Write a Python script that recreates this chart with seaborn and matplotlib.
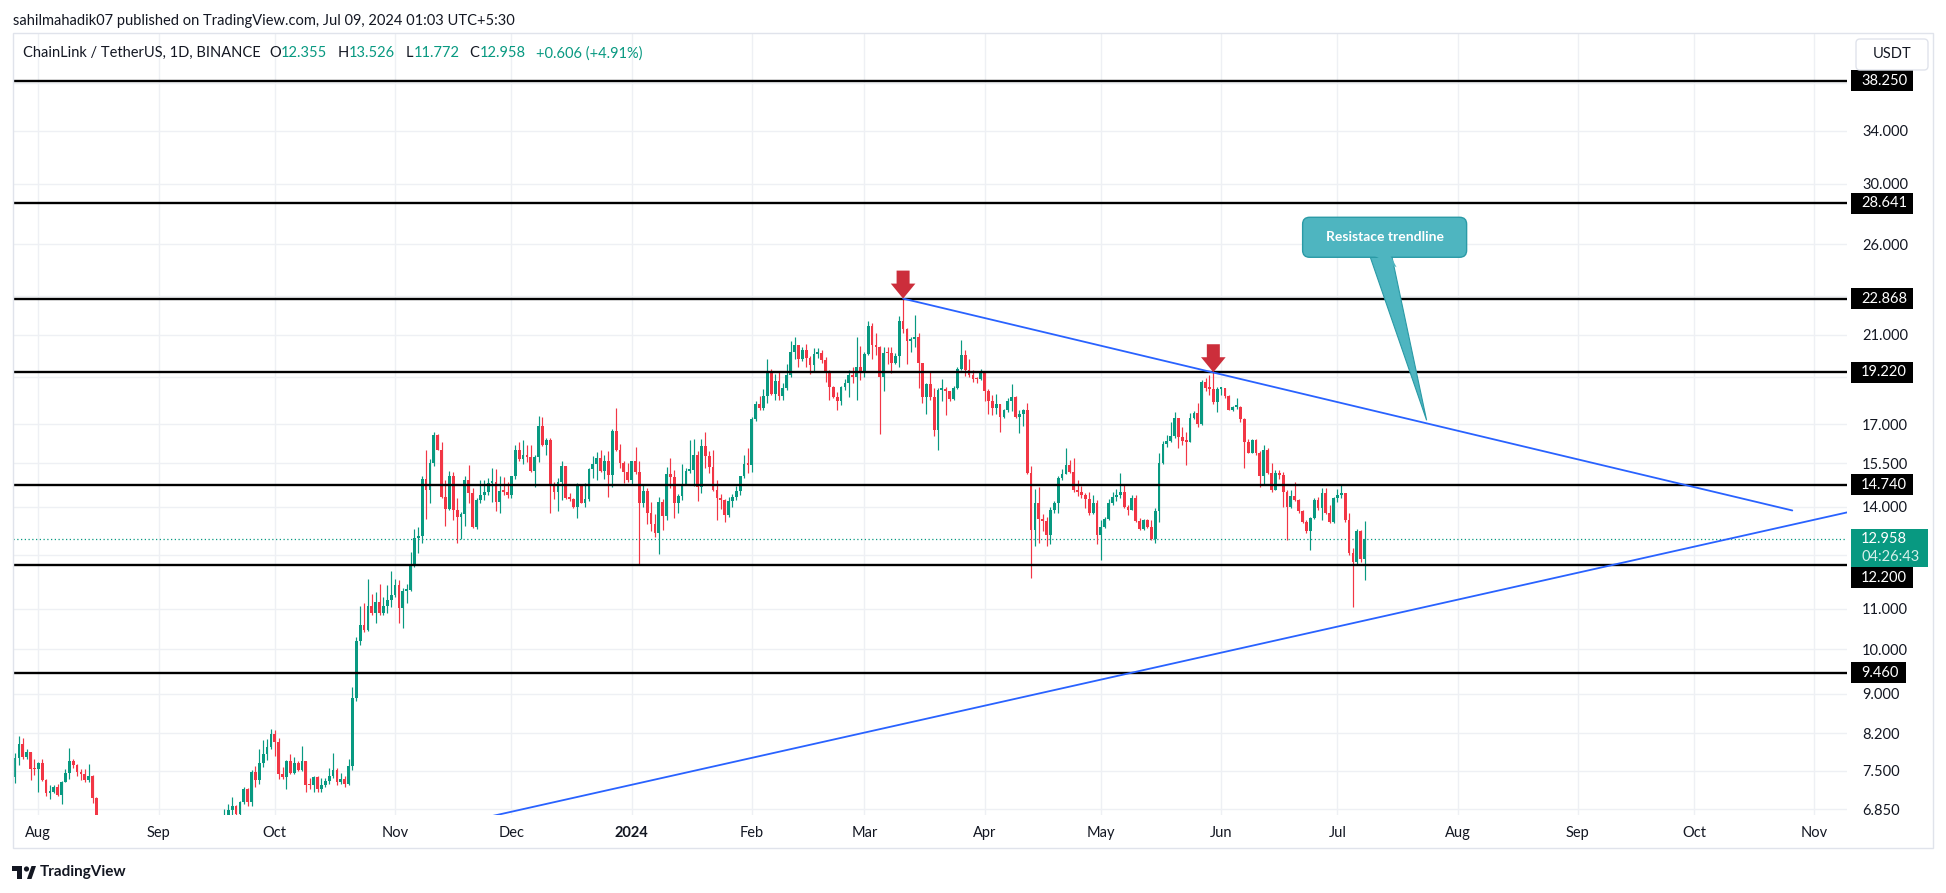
import numpy as np
import pandas as pd
import matplotlib
matplotlib.use("Agg")
import matplotlib.pyplot as plt
import matplotlib.dates as mdates
from matplotlib.patches import Polygon, Rectangle, FancyBboxPatch, Circle
from matplotlib.ticker import FixedLocator, FixedFormatter, NullLocator
from matplotlib.transforms import IdentityTransform
import seaborn as sns

# ---------------------------------------------------------------- data
first_date = "2023-07-26"
first_open = 7.40

close_2023_07 = [7.74, 8.00, 7.76, 7.85, 7.54, 7.53]
high_2023_07 = [7.82, 8.14, 8.10, 7.90, 7.85, 7.72]
low_2023_07 = [7.29, 7.61, 7.72, 7.72, 7.34, 7.43]

close_2023_08 = [7.64, 7.34, 7.12, 7.14, 7.22, 7.09, 7.31, 7.47, 7.68, 7.61,
                 7.49, 7.44, 7.34, 7.42, 7.04, 6.50, 6.02, 6.05, 6.12, 6.20,
                 6.06, 5.96, 6.18, 6.06, 6.04, 6.02, 6.07, 6.10, 6.44, 6.28, 6.02]
high_2023_08 = [7.66, 7.72, 7.36, 7.25, 7.26, 7.27, 7.33, 7.54, 7.92, 7.72,
                7.63, 7.53, 7.53, 7.63, 7.43, 7.06, 6.55, 6.18, 6.22, 6.28,
                6.22, 6.10, 6.24, 6.22, 6.10, 6.08, 6.12, 6.18, 6.62, 6.48, 6.36]
low_2023_08 = [7.14, 7.32, 7.07, 7.02, 7.12, 7.07, 6.94, 7.30, 7.36, 7.55,
               7.42, 7.34, 7.31, 7.31, 6.95, 6.45, 5.62, 5.82, 5.98, 6.06,
               5.96, 5.72, 5.90, 6.00, 5.94, 5.98, 5.98, 6.00, 6.05, 6.22, 5.95]

close_2023_09 = [5.96, 6.02, 6.06, 6.02, 6.08, 6.06, 6.12, 6.02, 6.04, 5.92,
                 5.84, 6.02, 6.12, 6.28, 6.30, 6.34, 6.28, 6.70, 6.84, 6.91,
                 6.77, 6.97, 7.18, 6.97, 7.49, 7.34, 7.64, 7.80, 7.94, 8.19]
high_2023_09 = [6.08, 6.06, 6.12, 6.10, 6.14, 6.18, 6.20, 6.16, 6.08, 6.06,
                5.98, 6.12, 6.18, 6.40, 6.36, 6.40, 6.38, 6.85, 6.93, 7.05,
                6.92, 6.99, 7.22, 7.20, 7.51, 7.58, 7.90, 8.07, 8.08, 8.28]
low_2023_09 = [5.84, 5.94, 5.98, 5.96, 5.97, 6.00, 6.02, 5.98, 6.00, 5.85,
               5.72, 5.82, 5.98, 6.10, 6.18, 6.26, 6.20, 6.26, 6.62, 6.75,
               6.65, 6.72, 6.93, 6.90, 6.91, 7.23, 7.27, 7.57, 7.70, 7.90]

close_2023_10 = [8.04, 7.45, 7.40, 7.68, 7.47, 7.64, 7.52, 7.67, 7.26, 7.25,
                 7.40, 7.18, 7.26, 7.33, 7.42, 7.52, 7.31, 7.36, 7.28, 7.58,
                 8.90, 10.20, 10.59, 10.46, 11.07, 10.90, 11.18, 10.90, 11.07, 11.23, 11.36]
high_2023_10 = [8.26, 8.10, 7.57, 7.69, 7.80, 7.76, 7.68, 7.95, 7.68, 7.37,
                7.41, 7.42, 7.38, 7.37, 7.56, 7.83, 7.55, 7.46, 7.42, 7.72,
                9.15, 10.30, 11.07, 11.14, 11.79, 11.39, 11.45, 11.66, 11.30, 11.63, 12.03]
low_2023_10 = [7.77, 7.36, 7.36, 7.19, 7.45, 7.44, 7.50, 7.50, 7.14, 7.19,
               7.13, 7.13, 7.13, 7.22, 7.27, 7.37, 7.26, 7.28, 7.22, 7.26,
               7.52, 8.84, 10.10, 10.40, 10.44, 10.85, 10.64, 10.85, 10.85, 10.90, 11.05]

close_2023_11 = [11.63, 11.02, 11.47, 11.50, 12.23, 13.00, 13.05, 14.94, 14.56, 15.50,
                 16.56, 16.01, 14.33, 13.93, 15.05, 13.87, 13.67, 13.75, 14.91, 14.44,
                 13.34, 14.22, 14.39, 14.50, 14.80, 14.85, 14.16, 14.52, 14.50, 14.39]
high_2023_11 = [11.80, 11.77, 11.55, 11.65, 12.58, 13.29, 13.35, 15.05, 16.01, 15.65,
                16.71, 16.63, 16.30, 14.91, 15.24, 15.20, 14.29, 13.82, 15.05, 15.43,
                14.64, 14.30, 14.91, 14.90, 14.97, 15.33, 15.30, 15.03, 15.00, 14.82]
low_2023_11 = [11.30, 10.64, 10.52, 11.15, 11.48, 12.14, 12.54, 12.83, 13.60, 14.13,
               15.40, 15.98, 14.30, 13.38, 13.90, 13.57, 12.86, 12.97, 13.38, 14.13,
               13.30, 13.29, 14.13, 14.22, 14.40, 14.16, 13.86, 13.78, 14.39, 14.30]

close_2023_12 = [15.03, 16.01, 15.67, 15.82, 15.72, 15.22, 15.72, 16.94, 16.17, 16.39,
                 14.74, 14.50, 14.82, 15.39, 14.27, 14.25, 14.00, 14.74, 14.13, 14.24,
                 15.30, 15.48, 15.69, 15.22, 15.60, 15.08, 16.75, 15.98, 15.50, 15.18, 14.91]
high_2023_12 = [15.05, 16.20, 16.30, 16.39, 16.19, 16.17, 15.80, 17.32, 17.28, 16.47,
                16.45, 14.82, 14.97, 15.59, 15.42, 14.44, 14.30, 14.80, 14.74, 14.80,
                15.33, 15.76, 15.93, 15.98, 15.82, 15.96, 16.80, 17.66, 16.24, 15.59, 15.50]
low_2023_12 = [14.30, 14.95, 15.60, 15.49, 15.55, 15.20, 14.67, 15.55, 16.15, 15.82,
               13.80, 14.24, 13.86, 14.22, 14.25, 14.20, 13.95, 13.64, 14.10, 14.00,
               14.20, 14.97, 14.91, 15.20, 14.95, 14.33, 14.67, 15.95, 15.33, 14.80, 14.82]

close_2024_01 = [15.57, 15.18, 14.13, 14.53, 13.78, 13.44, 13.16, 14.15, 13.69, 15.12,
                 15.00, 14.13, 14.36, 14.77, 15.24, 15.27, 15.80, 14.65, 16.14, 15.76,
                 15.38, 14.56, 14.30, 14.22, 13.73, 14.20, 14.33, 14.51, 15.03, 15.48, 15.45]
high_2024_01 = [15.59, 16.11, 15.59, 14.76, 14.64, 14.14, 13.76, 14.33, 14.24, 15.37,
                15.69, 15.27, 14.41, 15.46, 15.33, 16.39, 16.41, 15.95, 16.40, 16.71,
                15.96, 16.01, 14.91, 14.42, 14.24, 14.33, 14.42, 14.70, 15.05, 15.82, 16.07]
low_2024_01 = [14.77, 15.12, 12.20, 14.00, 13.43, 13.22, 13.02, 12.52, 13.25, 13.57,
               14.62, 13.62, 13.80, 14.22, 14.74, 15.15, 14.70, 14.20, 14.47, 15.33,
               15.15, 14.53, 13.57, 13.91, 13.51, 13.65, 14.00, 14.22, 14.39, 14.97, 15.15]

close_2024_02 = [17.21, 17.83, 17.66, 18.18, 19.21, 18.27, 18.83, 18.18, 18.52, 19.10,
                 20.18, 20.50, 19.82, 20.26, 19.90, 19.53, 20.06, 20.10, 19.79, 19.26,
                 18.58, 18.11, 17.97, 18.58, 18.75, 19.10, 19.02, 19.44, 19.26]
high_2024_02 = [17.31, 17.97, 18.18, 18.46, 19.82, 19.37, 19.14, 19.26, 18.75, 19.60,
                20.71, 20.91, 20.50, 20.38, 20.55, 19.95, 20.34, 20.34, 20.26, 19.93,
                19.30, 18.60, 18.33, 18.62, 18.90, 19.33, 19.44, 20.91, 20.45]
low_2024_02 = [15.18, 17.14, 17.59, 17.59, 17.89, 18.20, 18.00, 18.00, 18.00, 18.45,
               19.00, 19.82, 19.44, 19.75, 19.44, 19.14, 19.26, 19.86, 19.64, 18.80,
               18.01, 18.08, 17.59, 17.80, 18.45, 18.13, 18.73, 18.00, 18.85]

close_2024_03 = [20.06, 21.44, 20.50, 20.40, 19.00, 20.13, 20.10, 19.64, 19.97, 21.70,
                 21.27, 20.71, 20.78, 20.91, 19.64, 18.11, 18.70, 18.11, 16.78, 18.44,
                 18.48, 18.37, 18.04, 18.50, 19.37, 20.02, 19.30, 19.10, 18.93, 18.90, 19.20]
high_2024_03 = [20.15, 21.70, 21.60, 21.10, 20.45, 20.38, 20.40, 20.40, 20.13, 21.95,
                22.87, 21.36, 20.91, 22.00, 21.10, 19.64, 18.75, 19.26, 18.50, 18.50,
                18.93, 18.58, 18.40, 18.60, 19.44, 20.75, 20.26, 19.82, 19.33, 19.02, 19.36]
low_2024_03 = [19.00, 20.00, 19.82, 20.00, 16.60, 18.40, 19.60, 19.20, 19.58, 19.45,
               21.10, 19.58, 20.18, 20.40, 18.50, 17.89, 17.41, 18.00, 16.55, 15.98,
               17.95, 17.36, 17.96, 18.01, 18.46, 19.30, 19.06, 19.00, 18.80, 18.75, 18.85]

close_2024_04 = [18.37, 17.97, 17.68, 17.83, 17.31, 17.59, 17.94, 18.15, 17.31, 17.42,
                 17.59, 15.15, 13.25, 14.13, 13.60, 13.52, 13.10, 13.89, 14.13, 14.98,
                 15.12, 15.45, 15.20, 14.54, 14.50, 14.38, 14.25, 13.80, 14.10, 13.10]
high_2024_04 = [19.25, 18.48, 18.22, 18.27, 17.83, 17.62, 18.10, 18.70, 18.18, 17.59,
                17.62, 17.89, 15.40, 14.60, 14.65, 13.75, 13.65, 14.00, 14.20, 15.03,
                15.30, 16.07, 15.63, 15.69, 14.91, 14.68, 14.45, 14.50, 14.39, 14.22]
low_2024_04 = [17.96, 17.42, 17.38, 17.42, 16.70, 17.26, 17.50, 17.55, 17.26, 16.67,
               16.94, 15.10, 11.82, 12.76, 12.85, 13.20, 12.76, 12.80, 13.80, 13.78,
               14.90, 15.10, 15.15, 14.50, 14.36, 14.28, 13.94, 13.73, 13.76, 12.80]

close_2024_05 = [13.34, 13.60, 14.13, 14.32, 14.38, 14.50, 13.98, 13.89, 14.27, 13.54,
                 13.28, 13.57, 13.34, 12.97, 13.86, 15.52, 16.24, 16.36, 16.54, 17.26,
                 16.50, 16.36, 16.32, 17.26, 17.47, 17.00, 18.80, 18.53, 18.48, 17.93, 18.48]
high_2024_05 = [13.57, 13.67, 14.24, 14.50, 14.58, 15.15, 14.74, 14.05, 14.39, 14.39,
                13.62, 13.60, 13.60, 13.57, 13.94, 15.88, 16.33, 16.59, 17.11, 17.48,
                17.27, 16.89, 16.71, 17.45, 17.55, 17.89, 18.88, 18.95, 19.10, 19.24, 18.58]
low_2024_05 = [12.34, 13.30, 13.55, 14.05, 14.20, 14.30, 13.95, 13.73, 13.94, 13.51,
               13.25, 13.25, 13.30, 12.94, 12.84, 13.51, 15.49, 16.10, 16.30, 16.45,
               16.07, 16.20, 15.45, 16.30, 17.20, 16.90, 16.95, 18.40, 18.23, 17.83, 17.48]

close_2024_06 = [18.52, 18.18, 17.59, 17.70, 17.72, 17.21, 16.32, 15.90, 16.39, 15.90,
                 15.03, 16.01, 15.15, 14.56, 15.17, 15.08, 14.50, 13.99, 14.35, 14.22,
                 13.84, 13.50, 13.20, 13.62, 14.22, 13.94, 14.46, 13.80, 13.50, 14.30]
high_2024_06 = [18.58, 18.50, 18.23, 17.73, 18.07, 17.76, 17.25, 16.41, 16.40, 16.40,
                15.95, 16.20, 16.07, 15.52, 15.27, 15.25, 15.20, 14.56, 14.56, 14.85,
                14.24, 13.89, 13.57, 13.67, 14.27, 14.33, 14.62, 14.62, 14.05, 14.33]
low_2024_06 = [18.23, 18.10, 17.57, 17.55, 17.64, 17.11, 15.33, 15.88, 15.88, 15.82,
               14.67, 14.77, 15.10, 14.50, 14.67, 14.95, 14.00, 12.94, 13.95, 14.20,
               13.80, 13.46, 13.14, 12.64, 13.60, 13.90, 13.57, 13.76, 13.48, 13.45]

close_2024_07 = [14.38, 14.45, 13.57, 12.55, 12.28, 13.22, 12.355, 12.958]
high_2024_07 = [14.58, 14.77, 14.47, 13.78, 12.69, 13.28, 13.24, 13.526]
low_2024_07 = [14.15, 14.30, 13.51, 12.50, 11.05, 12.23, 12.28, 11.772]

# horizontal support / resistance levels
level_values = [38.25, 28.641, 22.868, 19.22, 14.74, 12.2, 9.46]
level_labels = ["38.250", "28.641", "22.868", "19.220", "14.740", "12.200", "9.460"]

# price scale
tick_values = [34, 30, 26, 21, 17, 15.5, 14, 11, 10, 9, 8.2, 7.5, 6.85]
tick_labels = ["34.000", "30.000", "26.000", "21.000", "17.000", "15.500", "14.000",
               "11.000", "10.000", "9.000", "8.200", "7.500", "6.850"]
hidden_grid_values = [38, 23, 19, 12.5]

# time scale
month_starts = ["2023-08-01", "2023-09-01", "2023-10-01", "2023-11-01", "2023-12-01",
                "2024-01-01", "2024-02-01", "2024-03-01", "2024-04-01", "2024-05-01",
                "2024-06-01", "2024-07-01", "2024-08-01", "2024-09-01", "2024-10-01",
                "2024-11-01"]
month_labels = ["Aug", "Sep", "Oct", "Nov", "Dec", "2024", "Feb", "Mar", "Apr", "May",
                "Jun", "Jul", "Aug", "Sep", "Oct", "Nov"]

# trendlines
resistance_dates = ["2024-03-11 00:00", "2024-10-26 07:00"]
resistance_prices = [22.868, 13.87]
support_dates = ["2023-10-20 00:00", "2024-11-20 00:00"]
support_prices = [6.25, 14.11]

# annotations
arrow_dates = ["2024-03-11", "2024-05-30"]
arrow_prices = [22.868, 19.22]
callout_text = "Resistace trendline"
callout_date = "2024-07-24"
callout_price = 17.16

last_price_label = "12.958"
countdown_label = "04:26:43"
header_text = "sahilmahadik07 published on TradingView.com, Jul 09, 2024 01:03 UTC+5:30"
symbol_text = "ChainLink / TetherUS, 1D, BINANCE"
ohlc_keys = ["O", "H", "L", "C"]
ohlc_vals = ["12.355", "13.526", "11.772", "12.958"]
change_text = "+0.606 (+4.91%)"

# ---------------------------------------------------------------- assemble
closes = np.array(close_2023_07 + close_2023_08 + close_2023_09 + close_2023_10 +
                  close_2023_11 + close_2023_12 + close_2024_01 + close_2024_02 +
                  close_2024_03 + close_2024_04 + close_2024_05 + close_2024_06 +
                  close_2024_07)
highs = np.array(high_2023_07 + high_2023_08 + high_2023_09 + high_2023_10 +
                 high_2023_11 + high_2023_12 + high_2024_01 + high_2024_02 +
                 high_2024_03 + high_2024_04 + high_2024_05 + high_2024_06 +
                 high_2024_07)
lows = np.array(low_2023_07 + low_2023_08 + low_2023_09 + low_2023_10 +
                low_2023_11 + low_2023_12 + low_2024_01 + low_2024_02 +
                low_2024_03 + low_2024_04 + low_2024_05 + low_2024_06 +
                low_2024_07)
opens = np.concatenate([[first_open], closes[:-1]])
highs = np.maximum(highs, np.maximum(opens, closes))
lows = np.minimum(lows, np.minimum(opens, closes))
dates = pd.date_range(first_date, periods=len(closes), freq="D")
xs = mdates.date2num(dates)

df = pd.DataFrame({"x": xs, "open": opens, "high": highs, "low": lows, "close": closes})
df["up"] = df["close"] >= df["open"]


def dnum(s):
    return mdates.date2num(pd.Timestamp(s))


# ---------------------------------------------------------------- style
sns.set_theme(style="white")
plt.rcParams["font.family"] = ["Lato", "DejaVu Sans"]

UP = "#089981"
DOWN = "#F23645"
GRID = "#EEF0F4"
TXT = "#131722"
BLUE = "#2962FF"
FS = 10.5

W, H = 1946, 893
fig = plt.figure(figsize=(W / 100, H / 100), dpi=100)
fig.patch.set_facecolor("white")

L_PX, R_PX, T_PX, B_PX = 12.7, 1847, 34, 815
ax = fig.add_axes([L_PX / W, 1 - B_PX / H, (R_PX - L_PX) / W, (B_PX - T_PX) / H])
ax.set_facecolor("white")
ax.set_yscale("log")
YLIM = (6.76, 42.7)
aug1 = dnum("2023-08-01")
px_day = 3.878
XLIM = (aug1 - (38.3 - L_PX) / px_day, aug1 + (R_PX - 38.3) / px_day)
ax.set_ylim(*YLIM)
ax.set_xlim(*XLIM)
for s in ax.spines.values():
    s.set_visible(False)

# grid
month_x = np.array([dnum(m) for m in month_starts])
for mx in month_x:
    ax.axvline(mx, color=GRID, lw=1.0, zorder=0)
for v in tick_values + hidden_grid_values:
    ax.axhline(v, color=GRID, lw=1.0, zorder=0)

# current price dotted line
ax.axhline(closes[-1], color=UP, lw=0.9, ls=(0, (1, 2)), zorder=1)

# candles
colors = np.where(df["up"], UP, DOWN)
ax.vlines(df["x"], df["low"], df["high"], colors=colors, lw=0.85, zorder=3)
bottoms = np.minimum(df["open"], df["close"])
heights = np.maximum(np.abs(df["close"] - df["open"]), bottoms * 0.004)
ax.bar(df["x"], heights, bottom=bottoms, width=0.72, color=colors, linewidth=0, zorder=3.2)

# levels
for v in level_values:
    ax.axhline(v, color="black", lw=1.7, zorder=4)

# trendlines (seaborn)
res_x = [dnum(d) for d in resistance_dates]
sup_x = [dnum(d) for d in support_dates]
sns.lineplot(x=res_x, y=resistance_prices, ax=ax, color=BLUE, linewidth=1.3,
             estimator=None, sort=False, zorder=5)
sns.lineplot(x=sup_x, y=support_prices, ax=ax, color=BLUE, linewidth=1.3,
             estimator=None, sort=False, zorder=5)

ax.set_yscale("log")
ax.set_ylim(*YLIM)
ax.set_xlim(*XLIM)
ax.set_xlabel("")
ax.set_ylabel("")

# ticks
ax.yaxis.tick_right()
ax.yaxis.set_major_locator(FixedLocator(tick_values))
ax.yaxis.set_major_formatter(FixedFormatter(tick_labels))
ax.yaxis.set_minor_locator(NullLocator())
ax.tick_params(axis="y", which="both", length=0, pad=10.8, labelsize=FS, labelcolor=TXT)
ax.set_xticks(month_x)
ax.set_xticklabels(month_labels)
ax.tick_params(axis="x", length=0, pad=8, labelsize=FS, labelcolor=TXT)
for lab in ax.get_xticklabels():
    if lab.get_text() == "2024":
        lab.set_fontweight("bold")

fig.canvas.draw()
renderer = fig.canvas.get_renderer()
ID = IdentityTransform()


def to_disp(xnum, price):
    return ax.transData.transform((xnum, price))


# red arrows
for d, p in zip(arrow_dates, arrow_prices):
    xt, yt = to_disp(dnum(d), p)
    verts = [(xt, yt), (xt - 12.3, yt + 15), (xt - 6.5, yt + 15), (xt - 6.5, yt + 28),
             (xt + 6.5, yt + 28), (xt + 6.5, yt + 15), (xt + 12.3, yt + 15)]
    fig.add_artist(Polygon(verts, closed=True, fc="#CC2E3B", ec="none", transform=ID, zorder=6))

# callout
xt, yt = to_disp(dnum(callout_date), callout_price)
bx0, bx1 = xt - 124, xt + 40
by0, by1 = yt + 163, yt + 203
CAL = "#4EB5C0"
CAL_E = "#2A9AA6"
fig.add_artist(Polygon([(xt - 57, by0 + 2), (xt - 35, by0 + 2), (xt, yt)], closed=True,
                       fc=CAL, ec=CAL_E, lw=0.8, transform=ID, zorder=6))
fig.add_artist(FancyBboxPatch((bx0, by0), bx1 - bx0, by1 - by0,
                              boxstyle="round,pad=0,rounding_size=7",
                              fc=CAL, ec=CAL_E, lw=1.0, transform=ID, zorder=6.1))
fig.add_artist(Polygon([(xt - 55, by0 + 3), (xt - 37, by0 + 3), (xt - 30, by0 - 10)], closed=True,
                       fc=CAL, ec="none", transform=ID, zorder=6.2))
fig.text((bx0 + bx1) / 2, (by0 + by1) / 2, callout_text, transform=ID, ha="center", va="center",
         color="white", fontsize=10, fontweight="bold", zorder=7)

# price scale labels for levels
for v, lab in zip(level_values, level_labels):
    y = to_disp(XLIM[0], v)[1]
    if lab == "12.200":
        y -= 13
    w = 62 if len(lab) == 6 else 55
    fig.add_artist(Rectangle((1851, y - 10.5), w, 21, fc="black", ec="none", transform=ID, zorder=5))
    fig.text(1861, y, lab, transform=ID, ha="left", va="center", color="white",
             fontsize=FS, zorder=6)

# current price box
yp = to_disp(XLIM[0], closes[-1])[1]
fig.add_artist(Rectangle((1851, yp - 27.6), 77, 38.1, fc=UP, ec="none", transform=ID, zorder=5.5))
fig.text(1861, yp, last_price_label, transform=ID, ha="left", va="center", color="white",
         fontsize=FS, zorder=6)
fig.text(1861, yp - 18, countdown_label, transform=ID, ha="left", va="center", color="#D5F0EA",
         fontsize=FS, zorder=6)

# USDT button
fig.add_artist(FancyBboxPatch((1856, H - 70), 72, 31, boxstyle="round,pad=0,rounding_size=4",
                              fc="white", ec="#E0E3EB", lw=1.0, transform=ID, zorder=8))
fig.text(1892, H - 54.5, "USDT", transform=ID, ha="center", va="center", color=TXT,
         fontsize=FS, zorder=9)

# frame
fig.add_artist(Rectangle((12.7, H - 848), 1920.3, 815, fc="none", ec="#E0E3EB", lw=1.0,
                         transform=ID, zorder=0.5))

# header and legend
fig.text(13, H - 20.7, header_text, transform=ID, ha="left", va="center", color=TXT, fontsize=FS)
LY = H - 53.3
fig.text(23, LY, symbol_text, transform=ID, ha="left", va="center", color=TXT, fontsize=FS)
cur = 269.0
for k, v in zip(ohlc_keys, ohlc_vals):
    tk = fig.text(cur, LY, k, transform=ID, ha="left", va="center", color=TXT, fontsize=FS)
    cur = tk.get_window_extent(renderer).x1 + 0.5
    tv = fig.text(cur, LY, v, transform=ID, ha="left", va="center", color=UP, fontsize=FS)
    cur = tv.get_window_extent(renderer).x1 + 10
fig.text(cur, LY, change_text, transform=ID, ha="left", va="center", color=UP, fontsize=FS)

# TradingView logo
fig.add_artist(Rectangle((12, H - 871), 10, 5, fc=TXT, ec="none", transform=ID))
fig.add_artist(Rectangle((17, H - 879), 5, 13, fc=TXT, ec="none", transform=ID))
fig.add_artist(Circle((26.5, H - 869), 2.6, fc=TXT, ec="none", transform=ID))
fig.add_artist(Polygon([(27, H - 879), (31.5, H - 866), (36, H - 866), (31.5, H - 879)],
                       closed=True, fc=TXT, ec="none", transform=ID))
fig.text(40, H - 872, "TradingView", transform=ID, ha="left", va="center", color=TXT,
         fontsize=11, fontweight="bold")

fig.savefig("out.png", dpi=100, facecolor="white")
